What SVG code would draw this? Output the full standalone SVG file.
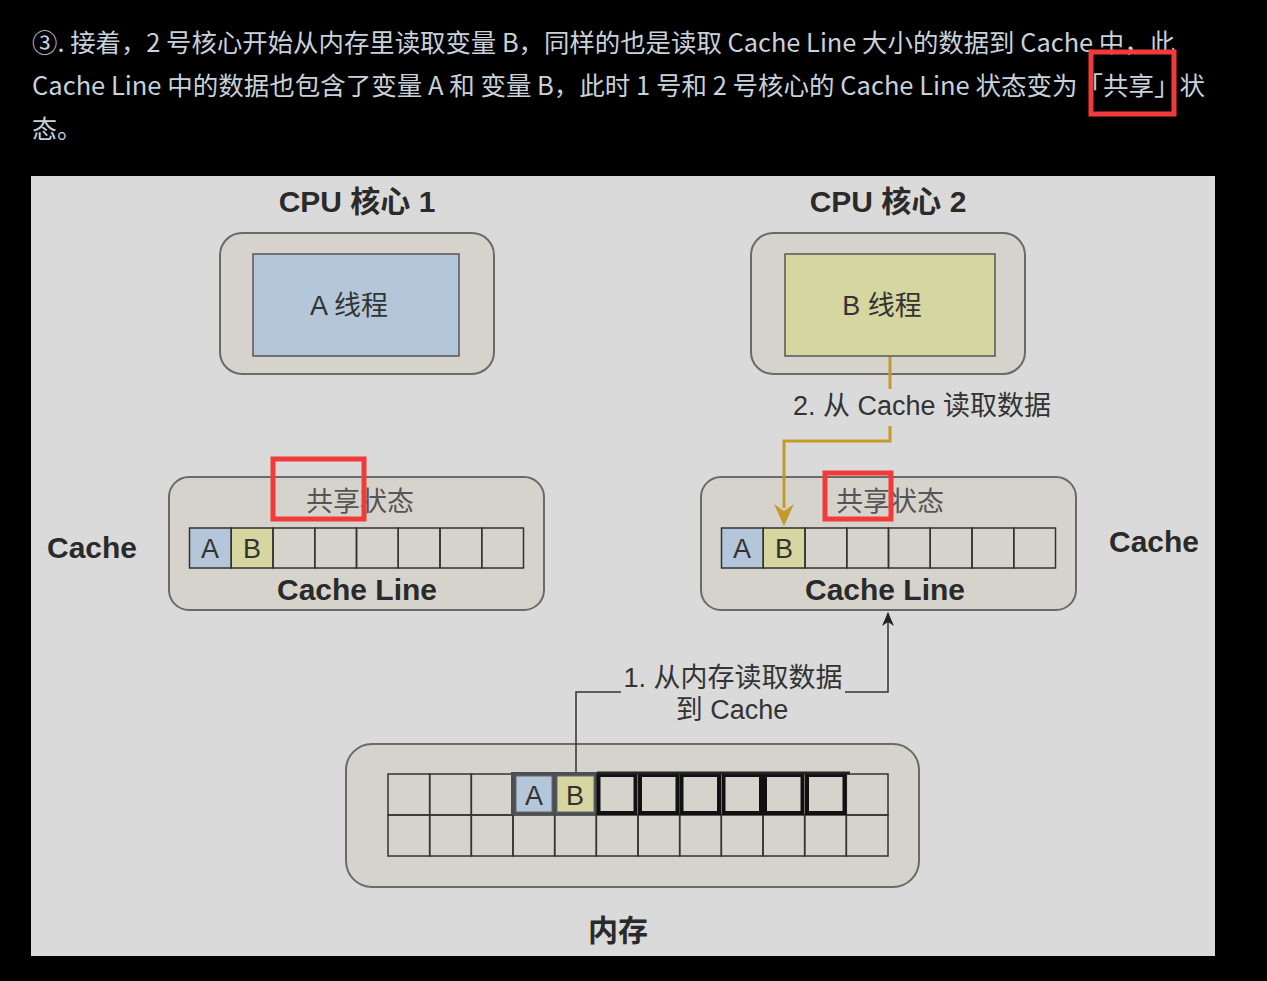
<svg xmlns="http://www.w3.org/2000/svg" width="1267" height="981" viewBox="0 0 1267 981">
<defs>
<style>
.top{font-family:"Noto Sans CJK SC","Noto Sans",sans-serif;font-size:25px;fill:#c9d1d9}
.t{font-family:"Liberation Sans","Noto Sans CJK SC",sans-serif;fill:#333}
.b{font-weight:bold;font-size:30px;fill:#2a2a2a}
.n{font-size:27px}
.s{font-size:27px;fill:#555}
.outer{fill:#d6d3cc;stroke:#6a6a6a;stroke-width:2}
.cell{fill:none;stroke:#333;stroke-width:1.5}
.ca{fill:#b4c6d9;stroke:#333;stroke-width:1.5}
.cb{fill:#d5d6a0;stroke:#333;stroke-width:1.5}
.red{fill:none;stroke:#f23a3a;stroke-width:5}
</style>
<marker id="ag" viewBox="0 0 20 22" refX="10" refY="22" markerWidth="20" markerHeight="22" markerUnits="userSpaceOnUse" orient="0">
<path d="M0 0 L10 22 L20 0 L10 7 Z" fill="#c49a2c"/>
</marker>
<marker id="ak" viewBox="0 0 12 14" refX="6" refY="1" markerWidth="12" markerHeight="14" markerUnits="userSpaceOnUse" orient="0">
<path d="M6 0 L12 14 L6 10 L0 14 Z" fill="#222"/>
</marker>
</defs>
<rect x="0" y="0" width="1267" height="981" fill="#000"/>
<g id="caption">
<text class="top" x="32" y="52" textLength="1143" lengthAdjust="spacingAndGlyphs">③. 接着，2 号核心开始从内存里读取变量 B，同样的也是读取 Cache Line 大小的数据到 Cache 中，此</text>
<text class="top" x="32" y="95" textLength="1173" lengthAdjust="spacingAndGlyphs">Cache Line 中的数据也包含了变量 A 和 变量 B，此时 1 号和 2 号核心的 Cache Line 状态变为「共享」状</text>
<text class="top" x="32" y="138">态。</text>
<rect class="red" x="1091" y="52" width="83" height="62"/>
</g>
<rect x="31" y="176" width="1184" height="780" fill="#dadada"/>
<g id="core1">
<text class="t b" x="357" y="212" text-anchor="middle">CPU 核心 1</text>
<rect class="outer" x="220" y="233" width="274" height="141" rx="22"/>
<rect x="253" y="254" width="206" height="102" fill="#b4c6d9" stroke="#555" stroke-width="1.5"/>
<text class="t n" x="349" y="315" text-anchor="middle">A 线程</text>
</g>
<g id="core2">
<text class="t b" x="888" y="212" text-anchor="middle">CPU 核心 2</text>
<rect class="outer" x="751" y="233" width="274" height="141" rx="22"/>
<rect x="785" y="254" width="210" height="102" fill="#d5d6a0" stroke="#555" stroke-width="1.5"/>
<text class="t n" x="882" y="315" text-anchor="middle">B 线程</text>
</g>
<g id="cache1">
<text class="t b" x="92" y="558" text-anchor="middle">Cache</text>
<rect class="outer" x="169" y="477" width="375" height="133" rx="20"/>
<text class="t s" x="360" y="511" text-anchor="middle">共享状态</text>
<rect class="ca" x="189.5" y="528" width="41.75" height="40"/>
<rect class="cb" x="231.25" y="528" width="41.75" height="40"/>
<rect class="cell" x="273" y="528" width="41.75" height="40"/>
<rect class="cell" x="314.75" y="528" width="41.75" height="40"/>
<rect class="cell" x="356.5" y="528" width="41.75" height="40"/>
<rect class="cell" x="398.25" y="528" width="41.75" height="40"/>
<rect class="cell" x="440" y="528" width="41.75" height="40"/>
<rect class="cell" x="481.75" y="528" width="41.75" height="40"/>
<text class="t n" x="210" y="558" text-anchor="middle">A</text>
<text class="t n" x="252" y="558" text-anchor="middle">B</text>
<text class="t b" x="357" y="600" text-anchor="middle">Cache Line</text>
<rect class="red" x="273" y="459" width="91" height="60"/>
</g>
<g id="cache2">
<text class="t b" x="1154" y="552" text-anchor="middle">Cache</text>
<rect class="outer" x="701" y="477" width="375" height="133" rx="20"/>
<text class="t s" x="890" y="511" text-anchor="middle">共享状态</text>
<rect class="ca" x="721.5" y="528" width="41.75" height="40"/>
<rect class="cb" x="763.25" y="528" width="41.75" height="40"/>
<rect class="cell" x="805" y="528" width="41.75" height="40"/>
<rect class="cell" x="846.75" y="528" width="41.75" height="40"/>
<rect class="cell" x="888.5" y="528" width="41.75" height="40"/>
<rect class="cell" x="930.25" y="528" width="41.75" height="40"/>
<rect class="cell" x="972" y="528" width="41.75" height="40"/>
<rect class="cell" x="1013.75" y="528" width="41.75" height="40"/>
<text class="t n" x="742" y="558" text-anchor="middle">A</text>
<text class="t n" x="784" y="558" text-anchor="middle">B</text>
<text class="t b" x="885" y="600" text-anchor="middle">Cache Line</text>
<rect class="red" x="825" y="473" width="66" height="46"/>
</g>
<g id="memory">
<rect class="outer" x="346" y="744" width="573" height="143" rx="26"/>
<g>
<rect class="cell" x="388" y="774" width="41.67" height="41"/>
<rect class="cell" x="429.67" y="774" width="41.67" height="41"/>
<rect class="cell" x="471.33" y="774" width="41.67" height="41"/>
<rect class="cell" x="846.33" y="774" width="41.67" height="41"/>
<rect class="cell" x="388" y="815" width="41.67" height="41"/>
<rect class="cell" x="429.67" y="815" width="41.67" height="41"/>
<rect class="cell" x="471.33" y="815" width="41.67" height="41"/>
<rect class="cell" x="513" y="815" width="41.67" height="41"/>
<rect class="cell" x="554.67" y="815" width="41.67" height="41"/>
<rect class="cell" x="596.33" y="815" width="41.67" height="41"/>
<rect class="cell" x="638" y="815" width="41.67" height="41"/>
<rect class="cell" x="679.67" y="815" width="41.67" height="41"/>
<rect class="cell" x="721.33" y="815" width="41.67" height="41"/>
<rect class="cell" x="763" y="815" width="41.67" height="41"/>
<rect class="cell" x="804.67" y="815" width="41.67" height="41"/>
<rect class="cell" x="846.33" y="815" width="41.67" height="41"/>
</g>
<rect x="511" y="772" width="86" height="43" fill="#4a4f55"/>
<rect x="516" y="776" width="36" height="36" fill="#b4c6d9" stroke="#666" stroke-width="1"/>
<rect x="557" y="776" width="37" height="36" fill="#d5d6a0" stroke="#666" stroke-width="1"/>
<text class="t n" x="534" y="805" text-anchor="middle">A</text>
<text class="t n" x="575" y="805" text-anchor="middle">B</text>
<g fill="none" stroke="#111" stroke-width="4">
<rect x="598.5" y="775" width="37" height="38"/>
<rect x="640" y="775" width="37.5" height="38"/>
<rect x="681.5" y="775" width="37.5" height="38"/>
<rect x="723.5" y="775" width="37.5" height="38"/>
<rect x="765" y="775" width="37.5" height="38"/>
<rect x="807" y="775" width="37.5" height="38"/>
</g>
<line x1="597" y1="773" x2="850" y2="773" stroke="#222" stroke-width="3"/>
<text class="t b" x="618" y="941" text-anchor="middle">内存</text>
</g>
<g id="connectors" fill="none">
<path d="M890 357 V389" stroke="#c49a2c" stroke-width="3"/>
<path d="M890 426 V441 H784 V508" stroke="#c49a2c" stroke-width="3"/>
<path d="M784 508 V526" stroke="none" marker-end="url(#ag)"/>
<path d="M576 772 V692 H621" stroke="#333" stroke-width="1.5"/>
<path d="M845 692 H888 V613" stroke="#333" stroke-width="1.5" marker-end="url(#ak)"/>
</g>
<g id="labels">
<text class="t n" x="922" y="415" text-anchor="middle">2. 从 Cache 读取数据</text>
<text class="t n" x="733" y="687" text-anchor="middle">1. 从内存读取数据</text>
<text class="t n" x="732" y="719" text-anchor="middle">到 Cache</text>
</g>
</svg>
